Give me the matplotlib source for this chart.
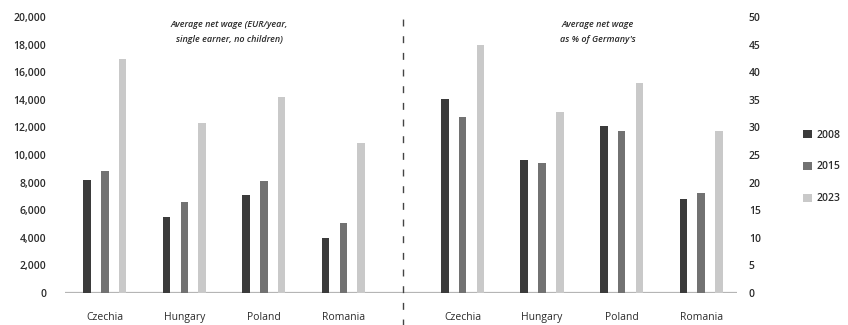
import numpy as np
import matplotlib
matplotlib.use("Agg")
import matplotlib.pyplot as plt
import matplotlib.transforms as mtransforms

plt.rcParams['font.family'] = ['Open Sans', 'DejaVu Sans']

countries = ["Czechia", "Hungary", "Poland", "Romania"]
years = ["2008", "2015", "2023"]

# net wage, EUR per year (single earner, no children)
wage_eur = {
    "2008": [8200, 5500, 7100, 3950],
    "2015": [8850, 6600, 8100, 5100],
    "2023": [16950, 12300, 14200, 10900],
}
# net wage as % of Germany's
wage_pct = {
    "2008": [35.1, 24.1, 30.2, 17.0],
    "2015": [31.9, 23.5, 29.4, 18.2],
    "2023": [44.9, 32.8, 38.0, 29.3],
}

eur_ticks = list(range(0, 20001, 2000))
pct_ticks = list(range(0, 51, 5))

colors = {"2008": "#3b3b3b", "2015": "#727272", "2023": "#c9c9c9"}
text_col = "#2b2b2b"

fig = plt.figure(figsize=(8.48, 3.25), dpi=100)
ax = fig.add_axes([65 / 848, 32 / 325, (737 - 65) / 848, (293 - 17) / 325])
ax2 = ax.twinx()

x_left = np.arange(4)
x_right = np.arange(4) + 4.5
offset = 0.225
bw = 0.095

for i, yr in enumerate(years):
    ax.bar(x_left + (i - 1) * offset, wage_eur[yr], width=bw, color=colors[yr], zorder=3)
    ax2.bar(x_right + (i - 1) * offset, wage_pct[yr], width=bw, color=colors[yr], zorder=3,
            label=yr)

ax.set_xlim(-0.5, 7.95)
ax.set_ylim(0, 20000)
ax2.set_ylim(0, 50)

ax.set_yticks(eur_ticks)
ax.set_yticklabels([f"{v:,}" for v in eur_ticks])
ax2.set_yticks(pct_ticks)
ax2.set_yticklabels([str(v) for v in pct_ticks])

ax.set_xticks(list(x_left) + list(x_right))
ax.set_xticklabels(countries + countries, fontsize=7.5, color=text_col)

for a in (ax, ax2):
    for s in a.spines.values():
        s.set_visible(False)
    a.tick_params(length=0)
ax.tick_params(axis='y', labelsize=7.5, labelcolor=text_col, pad=13.5)
ax.tick_params(axis='x', pad=14)
ax2.tick_params(axis='y', labelsize=7.5, labelcolor=text_col, pad=8.5)
for lab in ax.get_yticklabels() + ax2.get_yticklabels():
    lab.set_fontweight('semibold')

# baseline
ax.axhline(0, color="#b5b5b5", lw=1.6, zorder=2)

# dashed separator between the two panels
trans = mtransforms.blended_transform_factory(ax.transData, ax.transAxes)
ax.plot([3.75, 3.75], [-0.12, 1.02], transform=trans, clip_on=False,
        color="#444444", lw=1.0, ls=(0, (5, 7)), zorder=4)

ax.text(1.57, 0.99, "Average net wage (EUR/year,\nsingle earner, no children)",
        transform=trans, ha="center", va="top", fontsize=6.5, style="italic",
        fontweight="semibold", color=text_col, linespacing=1.9)
ax.text(6.2, 0.99, "Average net wage\nas % of Germany's",
        transform=trans, ha="center", va="top", fontsize=6.5, style="italic",
        fontweight="semibold", color=text_col, linespacing=1.9)

leg = ax2.legend(loc="center left", bbox_to_anchor=(1.088, 0.457), frameon=False,
                 fontsize=7.5, handlelength=0.8, handleheight=0.8, handletextpad=0.45,
                 labelspacing=2.0, borderaxespad=0.3)
for t in leg.get_texts():
    t.set_color(text_col)
    t.set_fontweight('semibold')

fig.savefig("out.png", dpi=100)
